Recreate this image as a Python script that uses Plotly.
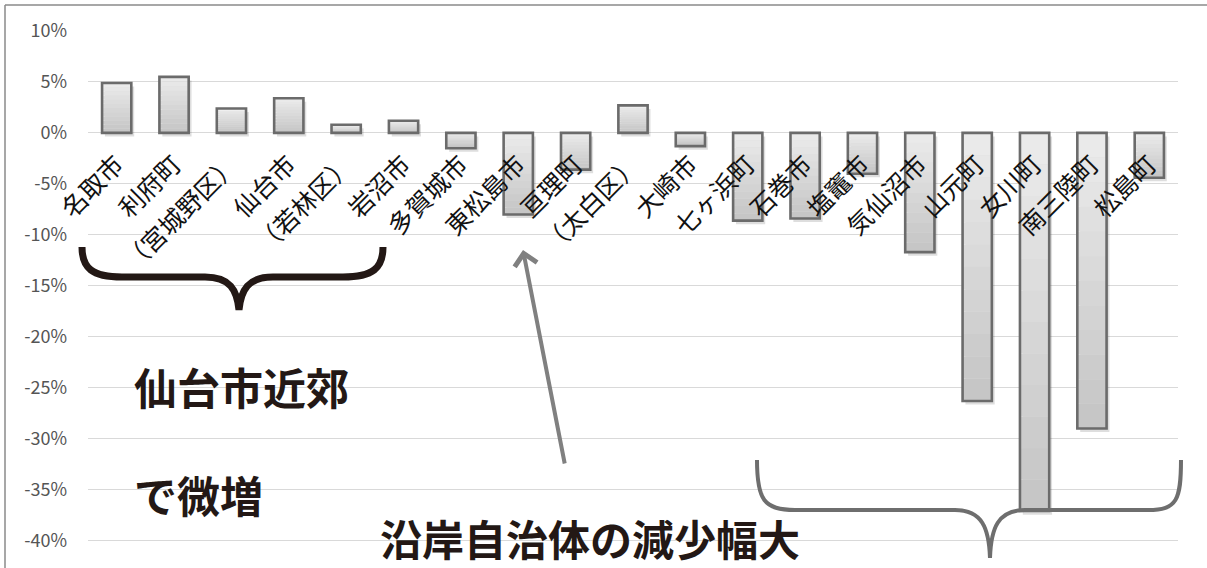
import plotly.graph_objects as go

# Population change by municipality (%)
municipalities = [
    "名取市", "利府町", "（宮城野区）", "仙台市", "（若林区）", "岩沼市",
    "多賀城市", "東松島市", "亘理町", "（太白区）", "大崎市", "七ヶ浜町",
    "石巻市", "塩竈市", "気仙沼市", "山元町", "女川町", "南三陸町", "松島町",
]
change_pct = [
    4.9, 5.5, 2.4, 3.4, 0.8, 1.2,
    -1.5, -8.0, -3.6, 2.7, -1.3, -8.6,
    -8.4, -4.0, -11.7, -26.3, -37.1, -29.0, -4.4,
]
y_tick_values = [10, 5, 0, -5, -10, -15, -20, -25, -30, -35, -40]
y_tick_labels = ["10%", "5%", "0%", "-5%", "-10%", "-15%", "-20%",
                 "-25%", "-30%", "-35%", "-40%"]

Y_MIN, Y_MAX = -42, 10

# canvas and plot-area geometry (pixels)
W, H = 1207, 568
ML, MR, MT, MB = 88, 29, 31, 7
PW, PH = W - ML - MR, H - MT - MB


def px(x):
    return (x - ML) / PW


def py(y):
    return (H - MB - y) / PH


def path(points_cmds):
    out = []
    for cmd, pts in points_cmds:
        coords = " ".join(f"{px(x):.5f},{py(y):.5f}" for x, y in pts)
        out.append(f"{cmd} {coords}")
    return " ".join(out)


BAR_W = 0.51
fig = go.Figure()

# soft drop shadow under each bar
fig.add_trace(go.Bar(
    x=municipalities, y=change_pct, base=[-0.35] * len(change_pct),
    width=BAR_W, offset=-BAR_W / 2 + 0.05,
    marker=dict(color="rgba(0,0,0,0.13)", line=dict(width=0)),
    hoverinfo="skip", showlegend=False,
))

# vertical grey gradient inside each bar: light at the top, darker at the bottom
LIGHT, DARK = (236, 236, 236), (196, 196, 196)
N_STEPS = 12
for k in range(N_STEPS):
    bases, lengths, colors = [], [], []
    for v in change_pct:
        lo = v * k / N_STEPS
        bases.append(lo)
        lengths.append(v / N_STEPS)
        t = (k + 0.5) / N_STEPS
        top = t if v >= 0 else 1 - t
        c = tuple(round(DARK[i] + (LIGHT[i] - DARK[i]) * top) for i in range(3))
        colors.append(f"rgb{c}")
    fig.add_trace(go.Bar(
        x=municipalities, y=lengths, base=bases, width=BAR_W,
        marker=dict(color=colors, line=dict(width=0)),
        hoverinfo="skip", showlegend=False,
    ))

# bar outlines
fig.add_trace(go.Bar(
    x=municipalities, y=change_pct, width=BAR_W,
    marker=dict(color="rgba(0,0,0,0)", line=dict(color="#6b6b6b", width=2.6)),
    showlegend=False,
))

FONT = "Noto Sans CJK JP"

fig.update_layout(
    width=W, height=H,
    margin=dict(l=ML, r=MR, t=MT, b=MB),
    paper_bgcolor="white", plot_bgcolor="white",
    barmode="overlay",
    font=dict(family=FONT, color="#262626"),
    xaxis=dict(
        type="category", range=[-0.5, len(municipalities) - 0.5],
        anchor="free", position=(0 - Y_MIN) / (Y_MAX - Y_MIN),
        tickangle=-45, ticks="", showline=False, showgrid=False,
        tickfont=dict(size=25, color="#111111", family=FONT),
        ticklabelstandoff=11, automargin=False,
    ),
    yaxis=dict(
        range=[Y_MIN, Y_MAX], tickvals=y_tick_values, ticktext=y_tick_labels,
        showgrid=True, gridcolor="#d9d9d9", gridwidth=1,
        zeroline=True, zerolinecolor="#d9d9d9", zerolinewidth=1,
        showline=False, ticks="",
        tickfont=dict(size=18, color="#555555", family=FONT),
        ticklabelstandoff=20, automargin=False,
    ),
)

shapes = []
# outer chart frame (top and left edges)
shapes.append(dict(type="line", xref="paper", yref="paper",
                   x0=px(5), y0=py(5), x1=px(W), y1=py(5),
                   line=dict(color="#8a8a8a", width=1.5)))
shapes.append(dict(type="line", xref="paper", yref="paper",
                   x0=px(5), y0=py(5), x1=px(5), y1=py(H),
                   line=dict(color="#8a8a8a", width=1.5)))

# black curly brace under the Sendai-area labels
brace_black = path([
    ("M", [(82, 247)]),
    ("C", [(82, 268), (92, 277), (122, 277)]),
    ("L", [(205, 277)]),
    ("C", [(230, 277), (237, 290), (239, 310)]),
    ("C", [(241, 290), (248, 277), (273, 277)]),
    ("L", [(343, 277)]),
    ("C", [(373, 277), (383, 268), (383, 247)]),
])
shapes.append(dict(type="path", xref="paper", yref="paper", path=brace_black,
                   line=dict(color="#231815", width=7)))

# grey curly brace under the coastal municipalities
brace_grey = path([
    ("M", [(757, 460)]),
    ("C", [(757, 500), (764, 510), (795, 510)]),
    ("L", [(955, 510)]),
    ("C", [(982, 510), (989, 528), (990, 558)]),
    ("C", [(991, 528), (998, 510), (1025, 510)]),
    ("L", [(1148, 510)]),
    ("C", [(1177, 510), (1181, 500), (1181, 460)]),
])
shapes.append(dict(type="path", xref="paper", yref="paper", path=brace_grey,
                   line=dict(color="#6e6e6e", width=4)))

fig.update_layout(shapes=shapes)

annotations = [
    dict(text="<b>仙台市近郊</b>", x=px(132), y=py(386), xref="paper", yref="paper",
         xanchor="left", yanchor="middle", showarrow=False,
         font=dict(size=43, color="#231815", family=FONT)),
    dict(text="<b>で微増</b>", x=px(132), y=py(494), xref="paper", yref="paper",
         xanchor="left", yanchor="middle", showarrow=False,
         font=dict(size=43, color="#231815", family=FONT)),
    dict(text="<b>沿岸自治体の減少幅大</b>", x=px(378), y=py(537), xref="paper", yref="paper",
         xanchor="left", yanchor="middle", showarrow=False,
         font=dict(size=42, color="#231815", family=FONT)),
    # arrow pointing up toward the coastal bars
    dict(text="", x=px(523), y=py(250), xref="paper", yref="paper",
         ax=565 - 523, ay=465 - 250, axref="pixel", ayref="pixel",
         showarrow=True, arrowhead=4, arrowsize=1.1, arrowwidth=4,
         arrowcolor="#808080"),
]
fig.update_layout(annotations=annotations)

fig.write_html("out.html")
